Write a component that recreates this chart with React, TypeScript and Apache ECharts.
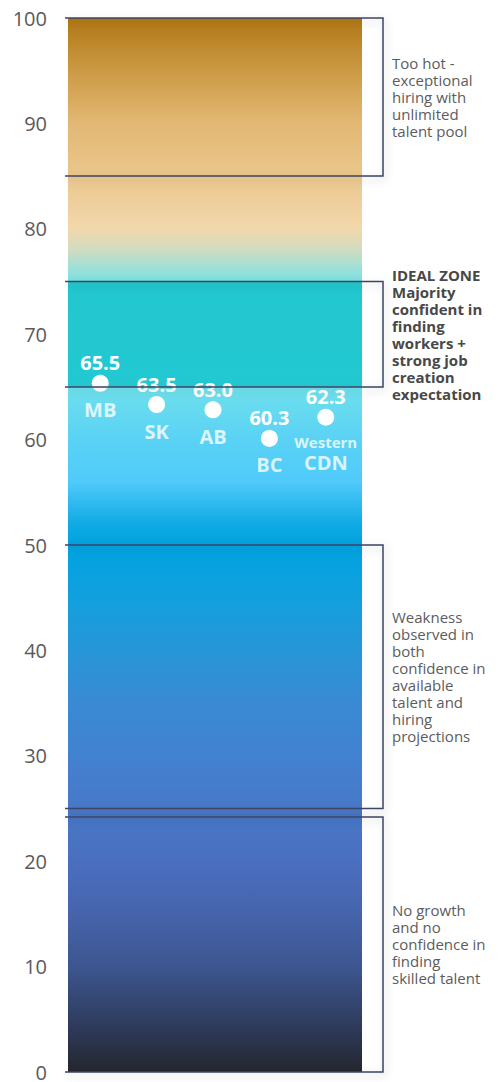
import React, { useEffect, useRef } from "react";
import * as echarts from "echarts";

const categories = ["MB", "SK", "AB", "BC", "Western CDN"];
const scores = [65.5, 63.5, 63.0, 60.3, 62.3];
const yMin = 0;
const yMax = 100;
const yStep = 10;
const backgroundValue = [100];
const zoneRanges: [number, number][] = [
  [100, 85],
  [75, 65],
  [50, 25],
  [24.2, 0],
];
const zoneTexts = [
  "Too hot -\nexceptional\nhiring with\nunlimited\ntalent pool",
  "IDEAL ZONE\nMajority\nconfident in\nfinding\nworkers +\nstrong job\ncreation\nexpectation",
  "Weakness\nobserved in\nboth\nconfidence in\navailable\ntalent and\nhiring\nprojections",
  "No growth\nand no\nconfidence in\nfinding\nskilled talent",
];
const zoneBold = [false, true, false, false];
// value on the scale -> colour
const gradientStops: [number, string][] = [
  [100, "#b07614"],
  [95, "#cc9a45"],
  [90, "#e2b874"],
  [85, "#ebc78c"],
  [82, "#efd0a0"],
  [80, "#f2d8ac"],
  [78, "#d0dcc0"],
  [76.5, "#a5e0d5"],
  [75.05, "#7ae2e2"],
  [75, "#22c6ce"],
  [65.05, "#22c9d2"],
  [65, "#6ee0ec"],
  [60, "#5ad2f5"],
  [56, "#50cafb"],
  [52, "#10aae4"],
  [50, "#00a3e0"],
  [45, "#12a0de"],
  [40, "#2796d8"],
  [35, "#3a8ad3"],
  [30, "#4282d0"],
  [25, "#4878c8"],
  [20, "#4a6fc0"],
  [15, "#4664ac"],
  [10, "#3d5690"],
  [5, "#2f3e62"],
  [0, "#24262e"],
];

const FONT = "'Open Sans', 'Noto Sans', sans-serif";

export default function App() {
  const ref = useRef<HTMLDivElement>(null);
  useEffect(() => {
    if (!ref.current) return;
    const chart = echarts.init(ref.current, undefined, { renderer: "svg" });
    const stops = gradientStops.map(([v, c]) => ({
      offset: (yMax - v) / (yMax - yMin),
      color: c,
    }));
    const option: any = {
      animation: false,
      grid: [
        { left: 68, top: 18, width: 294, height: 1059 },
        { left: 72, top: 18, width: 282, height: 1059 },
      ],
      xAxis: [
        { gridIndex: 0, type: "category", data: ["zone"], show: false },
        { gridIndex: 1, type: "category", data: categories, show: false },
      ],
      yAxis: [
        {
          gridIndex: 0,
          type: "value",
          min: yMin,
          max: yMax,
          interval: yStep,
          axisLine: { show: false },
          axisTick: { show: false },
          splitLine: { show: false },
          axisLabel: {
            margin: 21,
            fontSize: 20,
            fontFamily: FONT,
            fontWeight: "normal",
            color: "#5a5a5a",
          },
        },
        { gridIndex: 1, type: "value", min: yMin, max: yMax, show: false },
      ],
      series: [
        {
          type: "bar",
          xAxisIndex: 0,
          yAxisIndex: 0,
          data: backgroundValue,
          barWidth: "100%",
          silent: true,
          itemStyle: {
            color: new echarts.graphic.LinearGradient(0, 0, 0, 1, stops),
          },
        },
        {
          type: "scatter",
          xAxisIndex: 1,
          yAxisIndex: 1,
          data: scores,
          symbolSize: 17,
          z: 5,
          itemStyle: { color: "#ffffff", opacity: 1 },
          label: {
            show: true,
            position: "top",
            distance: 2,
            formatter: (p: any) => scores[p.dataIndex].toFixed(1),
            color: "#ffffff",
            fontSize: 20,
            fontWeight: "bold",
            fontFamily: FONT,
          },
        },
        {
          type: "scatter",
          xAxisIndex: 1,
          yAxisIndex: 1,
          data: scores,
          symbolSize: 17,
          z: 4,
          itemStyle: { color: "rgba(0,0,0,0)" },
          label: {
            show: true,
            position: "bottom",
            distance: 7,
            formatter: (p: any) => {
              const name = categories[p.dataIndex];
              const parts = name.split(" ");
              if (parts.length > 1) return `{s|${parts[0]}}\n{b|${parts[1]}}`;
              return `{b|${name}}`;
            },
            rich: {
              s: {
                color: "#ffffff",
                fontSize: 15,
                fontWeight: "bold",
                fontFamily: FONT,
                lineHeight: 19,
              },
              b: {
                color: "#ffffff",
                fontSize: 20,
                fontWeight: "bold",
                fontFamily: FONT,
                lineHeight: 22,
              },
            },
          },
        },
      ],
    };
    chart.setOption(option);

    const yPix = (v: number) => chart.convertToPixel({ yAxisIndex: 0 }, v) as number;
    const gridLeft = 68;
    const gridRight = 68 + 294;
    const boxL = gridLeft - 3;
    const boxR = gridRight + 21;
    const graphics: any[] = [];
    zoneRanges.forEach(([top, bot], i) => {
      const y1 = yPix(top);
      const y2 = yPix(bot);
      graphics.push({
        type: "polyline",
        z: 20,
        shape: {
          points: [
            [boxL, y1],
            [boxR, y1],
            [boxR, y2],
            [boxL, y2],
          ],
        },
        style: {
          fill: "none",
          stroke: "#3c4466",
          lineWidth: 1.5,
          shadowBlur: 8,
          shadowOffsetX: 2,
          shadowOffsetY: 3,
          shadowColor: "rgba(0,0,0,0.22)",
        },
      });
      graphics.push({
        type: "text",
        z: 20,
        x: boxR + 9,
        y: (y1 + y2) / 2,
        style: {
          text: zoneTexts[i],
          fontSize: 15,
          lineHeight: 17,
          fontFamily: FONT,
          fontWeight: zoneBold[i] ? "bold" : "normal",
          fill: zoneBold[i] ? "#484848" : "#5c5c5c",
          align: "left",
          verticalAlign: "middle",
        },
      });
    });
    chart.setOption({ graphic: graphics });

    return () => chart.dispose();
  }, []);
  return (
    <div
      ref={ref}
      style={{ position: "absolute", left: 0, top: 0, width: 503, height: 1082 }}
    />
  );
}
